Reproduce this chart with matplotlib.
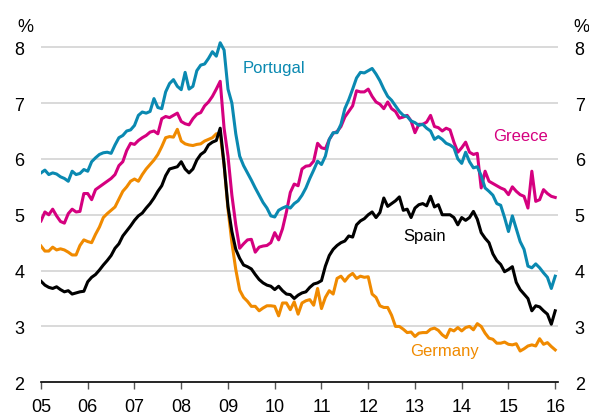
import matplotlib
matplotlib.use("Agg")
import matplotlib.pyplot as plt
import numpy as np

plt.rcParams['font.family'] = ['Liberation Sans', 'DejaVu Sans']

# monthly, Jan 2005 .. Jan 2016
portugal = [5.75, 5.8, 5.72, 5.75, 5.73, 5.68, 5.65, 5.6, 5.78, 5.72, 5.74, 5.81,
            5.78, 5.95, 6.02, 6.08, 6.11, 6.12, 6.1, 6.25, 6.38, 6.42, 6.5, 6.52,
            6.6, 6.78, 6.84, 6.82, 6.85, 7.08, 6.92, 6.9, 7.2, 7.35, 7.42, 7.3,
            7.24, 7.55, 7.25, 7.3, 7.58, 7.68, 7.7, 7.8, 7.92, 7.84, 8.08, 7.95,
            7.25, 7.0, 6.45, 6.05, 5.88, 5.75, 5.62, 5.48, 5.35, 5.22, 5.12, 4.98,
            4.96, 5.08, 5.12, 5.15, 5.12, 5.2, 5.25, 5.35, 5.48, 5.65, 5.8, 5.96,
            5.9, 6.05, 6.35, 6.47, 6.47, 6.62, 6.9, 7.06, 7.25, 7.45, 7.55, 7.54,
            7.58, 7.62, 7.52, 7.4, 7.25, 7.12, 7.05, 6.95, 6.85, 6.78, 6.76, 6.68,
            6.65, 6.6, 6.62, 6.55, 6.5, 6.35, 6.4, 6.35, 6.28, 6.25, 6.2, 6.0,
            5.92, 6.12, 5.95, 5.84, 5.86, 5.7, 5.48, 5.42, 5.35, 5.2, 5.17, 4.95,
            4.7, 4.98, 4.75, 4.52, 4.38, 4.08, 4.05, 4.12, 4.05, 3.96, 3.88, 3.68,
            3.9]
greece = [4.89, 5.05, 5.0, 5.1, 4.98, 4.88, 4.85, 5.02, 5.1, 5.05, 5.06, 5.38,
          5.38, 5.27, 5.45, 5.5, 5.55, 5.6, 5.65, 5.72, 5.88, 5.95, 6.15, 6.28,
          6.26, 6.33, 6.38, 6.42, 6.48, 6.5, 6.45, 6.72, 6.76, 6.74, 6.78, 6.82,
          6.67, 6.63, 6.61, 6.72, 6.8, 6.83, 6.95, 7.02, 7.12, 7.25, 7.39, 6.55,
          6.05, 5.35, 4.82, 4.4, 4.48, 4.55, 4.56, 4.33, 4.42, 4.44, 4.45, 4.5,
          4.68, 4.55, 4.75, 5.05, 5.4, 5.55, 5.52, 5.82, 5.87, 5.88, 5.96, 6.28,
          6.2, 6.18, 6.35, 6.46, 6.49, 6.58, 6.75, 6.85, 6.95, 7.22, 7.2, 7.2,
          7.25, 7.12, 7.02, 6.98, 6.9, 7.02, 6.9, 6.85, 6.73, 6.75, 6.78, 6.68,
          6.47, 6.62, 6.62, 6.66, 6.78, 6.58, 6.56, 6.5, 6.55, 6.52, 6.3, 6.12,
          6.2, 6.3, 6.12, 6.08, 6.1, 5.48, 5.78, 5.6, 5.56, 5.52, 5.48, 5.45,
          5.36, 5.5, 5.42, 5.36, 5.33, 5.12, 5.78, 5.24, 5.27, 5.45, 5.38, 5.33,
          5.31]
spain = [3.81, 3.74, 3.7, 3.68, 3.71, 3.66, 3.62, 3.64, 3.58, 3.6, 3.62, 3.63,
         3.8, 3.88, 3.93, 4.01, 4.1, 4.18, 4.27, 4.4, 4.48, 4.62, 4.71, 4.8,
         4.9, 4.98, 5.03, 5.12, 5.2, 5.3, 5.42, 5.52, 5.7, 5.82, 5.84, 5.86,
         5.95, 5.82, 5.75, 5.82, 5.98, 6.08, 6.13, 6.25, 6.3, 6.33, 6.55, 5.9,
         5.15, 4.7, 4.38, 4.22, 4.1, 4.07, 4.03, 3.93, 3.84, 3.78, 3.74, 3.72,
         3.66, 3.72, 3.64, 3.58, 3.57, 3.5, 3.56, 3.6, 3.62, 3.7, 3.76, 3.78,
         3.82, 4.08, 4.27, 4.38, 4.45, 4.5, 4.53, 4.62, 4.6, 4.82, 4.89, 4.93,
         5.0, 5.05, 4.95, 5.04, 5.3, 5.15, 5.2, 5.25, 5.32, 5.08, 5.1, 4.95,
         5.12, 5.18, 5.2, 5.16, 5.33, 5.14, 5.18, 5.0, 5.0, 5.0, 4.95, 4.82,
         4.95, 4.9, 4.95, 5.06, 4.92, 4.68, 4.58, 4.5, 4.3, 4.18, 4.11, 3.98,
         4.02, 4.07, 3.79, 3.66, 3.58, 3.5, 3.28, 3.37, 3.35, 3.28, 3.22, 3.04,
         3.28]
germany = [4.44, 4.35, 4.35, 4.42, 4.37, 4.39, 4.37, 4.33, 4.28, 4.28, 4.45, 4.55,
           4.52, 4.5, 4.65, 4.78, 4.95, 5.02, 5.08, 5.14, 5.28, 5.42, 5.5, 5.6,
           5.64, 5.6, 5.72, 5.82, 5.9, 5.98, 6.08, 6.22, 6.38, 6.4, 6.39, 6.53,
           6.32, 6.27, 6.25, 6.24, 6.26, 6.27, 6.32, 6.35, 6.38, 6.45, 6.45, 5.9,
           5.1, 4.5, 4.02, 3.65, 3.52, 3.45, 3.36, 3.36, 3.28, 3.33, 3.37, 3.37,
           3.36, 3.19, 3.42, 3.42, 3.3, 3.44, 3.22, 3.42, 3.46, 3.48, 3.38, 3.68,
           3.32, 3.52, 3.64, 3.58, 3.86, 3.9, 3.81, 3.9, 3.95, 3.86, 3.9, 3.88,
           3.89, 3.58, 3.52, 3.37, 3.34, 3.34, 3.2, 3.0, 3.0, 2.95, 2.89, 2.9,
           2.82, 2.88, 2.89, 2.89, 2.95, 2.97, 2.93, 2.85, 2.8, 2.95, 2.92, 2.98,
           2.92, 2.98, 3.0, 2.94, 3.05, 3.0, 2.88, 2.79, 2.77, 2.7, 2.7, 2.72,
           2.68, 2.67, 2.69, 2.56, 2.6, 2.65, 2.67, 2.65, 2.78, 2.68, 2.71, 2.64,
           2.58]

year_ticks = list(range(2005, 2017))
year_labels = ['05', '06', '07', '08', '09', '10', '11', '12', '13', '14', '15', '16']
y_ticks = [2, 3, 4, 5, 6, 7, 8]

c_pt = '#0a89b1'
c_gr = '#d5007f'
c_es = '#000000'
c_de = '#f08a00'

months = 2005 + np.arange(len(portugal)) / 12.0

fig = plt.figure(figsize=(5.89, 4.14), dpi=100)
ax = fig.add_axes([0.0696, 0.0742, 0.8778, 0.843])

ax.plot(months, germany, color=c_de, lw=2.2, zorder=3)
ax.plot(months, spain, color=c_es, lw=2.2, zorder=4)
ax.plot(months, greece, color=c_gr, lw=2.2, zorder=5)
ax.plot(months, portugal, color=c_pt, lw=2.2, zorder=6)

ax.set_xlim(2005, 2016.06)
ax.set_ylim(2, 8.25)

for v in y_ticks[1:]:
    ax.axhline(v, color='#d9d9d9', lw=1.4, zorder=1)

ax.set_xticks(year_ticks)
ax.set_xticklabels(year_labels)
ax.set_yticks(y_ticks)
ax.tick_params(axis='x', direction='out', length=5, width=1, color='#555555',
               labelsize=13, pad=6)
ax.tick_params(axis='y', length=0, labelsize=13, pad=12,
               labelleft=True, labelright=True)

for s in ['top', 'left', 'right']:
    ax.spines[s].set_visible(False)
ax.spines['bottom'].set_color('black')
ax.spines['bottom'].set_linewidth(1.2)

fig.text(25 / 589, 1 - 27 / 414, '%', ha='center', va='center', fontsize=13)
fig.text(581 / 589, 1 - 27 / 414, '%', ha='center', va='center', fontsize=13)

ax.text(2009.32, 7.55, 'Portugal', color=c_pt, fontsize=12, va='baseline')
ax.text(2014.67, 6.34, 'Greece', color=c_gr, fontsize=12, va='baseline')
ax.text(2012.75, 4.55, 'Spain', color=c_es, fontsize=12, va='baseline')
ax.text(2012.9, 2.49, 'Germany', color=c_de, fontsize=12, va='baseline')

fig.savefig('out.png', dpi=100)
